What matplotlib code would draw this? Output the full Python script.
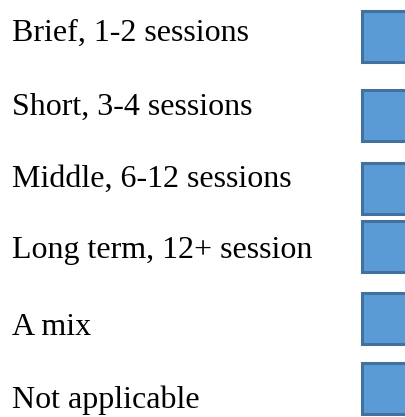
import matplotlib
matplotlib.use('Agg')
import matplotlib.pyplot as plt

labels = ['Brief, 1-2 sessions',
          'Short, 3-4 sessions',
          'Middle, 6-12 sessions',
          'Long term, 12+ session',
          'A mix',
          'Not applicable']

# layout in pixels (figure is 405 x 417)
text_baselines = [41, 115, 187, 258, 335, 408]
box_tops = [10.5, 89.5, 162.5, 220.5, 292.5, 362.5]
box_height = 51

fig = plt.figure(figsize=(4.05, 4.17), dpi=100)
ax = fig.add_axes([0, 0, 1, 1])
ax.set_xlim(0, 405)
ax.set_ylim(417, 0)
ax.axis('off')

for label, base in zip(labels, text_baselines):
    ax.text(12, base, label, fontsize=23, family='Liberation Serif',
            va='baseline', ha='left', color='black')

ax.bar([361.5] * len(box_tops), [box_height] * len(box_tops), bottom=box_tops,
       width=60, align='edge', color='#5B9BD5', edgecolor='#41719C',
       linewidth=2.2)

fig.savefig('out.png', dpi=100)
